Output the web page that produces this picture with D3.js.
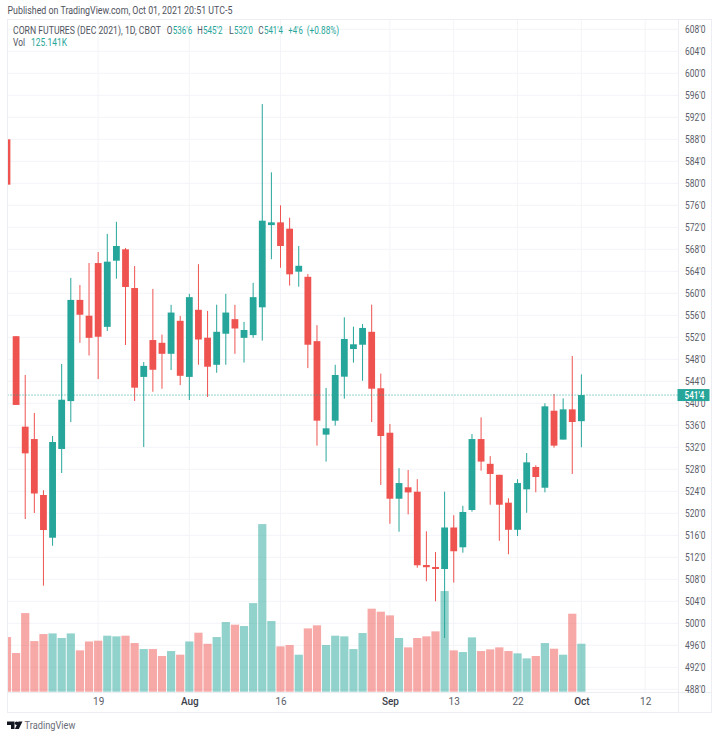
<!DOCTYPE html>
<html><head><meta charset="utf-8">
<style>html,body{margin:0;padding:0;background:#fff;overflow:hidden}svg{display:block}
text{font-family:Roboto,"Open Sans",sans-serif}</style>
<script src="https://cdn.jsdelivr.net/npm/d3@7"></script></head><body>
<script>
const firstIndex=-1;
const opens=[588,552.2,535.75,533.5,523.33,515.56,531.7,540.4,558.8,555.93,565.5,553.9,565.93,568,560.96,544.8,551.5,551,549,555,544.8,557,551.93,547,552.65,555.3,551.9,552.4,557.45,572.4,572.9,571.75,563.93,563,551.3,534.3,536.84,544.84,549.87,550.65,553,542.73,534.65,522.65,524.73,523.93,510.6,510.24,509.87,517.42,513.82,520.6,533.5,529,527,521.93,517,524.36,528.42,524.65,538.65,533.4,538.9,536.75];
const highs=[588,552.2,545.15,538.24,524.2,534.05,547.15,562.8,561.5,565.5,567.5,570.8,573,568.25,564.96,547.5,560.8,552.5,557.9,555.9,559.9,565.3,556.8,557.93,559.9,557.9,554.8,561.9,594.4,582,576,573.75,568.6,563.5,554.2,542.8,547,555.64,553.93,554.4,557.93,545.4,536.24,528.2,527.87,526.2,516.73,512.96,523.93,519.65,521.36,534.4,537.45,530.4,527,522.73,526.2,530.96,528.73,540,541.7,540.9,548.6,545.25];
const lows=[579.75,539.7,518.96,520.05,506.84,514.1,527.33,536.6,551,548.7,544.4,553.15,562.65,550.6,540.42,532.05,542.1,542.65,546.05,543.3,540.6,547,541.15,545.56,547,549,547.4,551.9,551.4,566.2,564.65,561.4,561.2,546.4,532.3,529.4,535.93,540.84,547.4,544.1,536.6,525.15,518.1,516.65,519.8,510.1,507.64,504,497.33,507.4,512.84,520.3,527.75,521.56,515,512.55,515.87,520.1,523.82,523.82,531.93,533.4,527.15,532];
const closes=[579.75,539.7,530.9,523.6,516.96,532.96,540.65,558.8,556.1,551.9,552.1,565.75,568.6,561.15,542.84,546.8,546.1,549,556.5,545,559.3,551.6,546.65,553,556.5,553.6,553.33,559.3,573.2,572.9,568.6,563.45,565,550.65,536.84,535.45,545.15,551.7,550.73,553.7,542.65,534.05,522.65,525.5,523.8,510.55,510.2,509.87,517.42,513.1,520.24,533.5,529.4,527.15,521.56,517,525.5,529.27,526.6,539.45,532.3,538.9,536.6,541.5];
const volumes=[142.5,100.8,205,132,150.3,152,140,152,107.8,131,133,146,144.3,146,126.9,111.2,111.2,93,106,96.5,131,153.8,125,142.5,181.6,174.7,171.2,231,437,184.2,118.2,121.7,96.5,165,173,121.7,146,144.3,111.2,153,216.4,208.6,199,140,115.6,140,144.3,157.3,262.4,107.8,103.4,141.6,106,110.4,115.6,106,100,86.9,93,126.9,112,96.5,203.3,125.14];
const priceTicks=[608,604,600,596,592,588,584,580,576,572,568,564,560,556,552,548,544,540,536,532,528,524,520,516,512,508,504,500,496,492,488];
const timeTickIdx=[9,19,29,41,48,55,62,69];
const timeTickLabels=["19","Aug","16","Sep","13","22","Oct","12"];
const monthLabels=["Aug","Sep","Oct"];
const lastLabel="541'4";
const lastClose=541.5;

const W=720,H=738;
const frame={l:7.5,t:19.5,r:711.5,b:712.5,axisX:678.5,axisY:692.5};
const GREEN="#26a69a",RED="#ef5350",GRID="#f3f4f8",BORDER="#eceef4",TXT="#5a5d68",DARK="#50535e";
const svg=d3.select("body").append("svg").attr("width",W).attr("height",H);
const x=d3.scaleLinear().domain([0,69]).range([16.1,645.2]);
const y=d3.scaleLinear().domain([608,488]).range([29.3,689.3]);
const v=d3.scaleLinear().domain([0,125.141]).range([691.7,643.7]);
const defs=svg.append("defs");
defs.append("clipPath").attr("id","pane").append("rect").attr("x",frame.l+.5).attr("y",frame.t).attr("width",frame.axisX-frame.l-.5).attr("height",frame.axisY-frame.t);
const pfmt=d=>d+"'0";

// grid
const grid=svg.append("g");
grid.selectAll(".h").data(priceTicks).join("line").attr("x1",frame.l).attr("x2",frame.axisX).attr("y1",d=>y(d)).attr("y2",d=>y(d)).attr("stroke",GRID);
grid.selectAll(".v").data(timeTickIdx).join("line").attr("x1",d=>x(d)).attr("x2",d=>x(d)).attr("y1",frame.t).attr("y2",frame.axisY).attr("stroke",GRID);

const pane=svg.append("g").attr("clip-path","url(#pane)");
const idx=closes.map((_,i)=>i+firstIndex);
const col=i=>closes[i]>=opens[i]?GREEN:RED;
pane.selectAll(".vol").data(idx).join("rect").attr("class","vol")
 .attr("x",(d)=>x(d)-4.1).attr("width",8.2)
 .attr("y",(d,i)=>v(volumes[i])).attr("height",(d,i)=>v(0)-v(volumes[i]))
 .attr("fill",(d,i)=>col(i)).attr("fill-opacity",.5);
pane.selectAll(".wick").data(idx).join("line").attr("class","wick")
 .attr("x1",d=>x(d)).attr("x2",d=>x(d))
 .attr("y1",(d,i)=>y(highs[i])).attr("y2",(d,i)=>y(lows[i]))
 .attr("stroke",(d,i)=>col(i)).attr("stroke-width",1);
pane.selectAll(".body").data(idx).join("rect").attr("class","body")
 .attr("x",d=>x(d)-3.4).attr("width",6.8)
 .attr("y",(d,i)=>y(Math.max(opens[i],closes[i])))
 .attr("height",(d,i)=>Math.max(1.5,Math.abs(y(opens[i])-y(closes[i]))))
 .attr("fill",(d,i)=>col(i));
// last price line
svg.append("line").attr("x1",frame.l).attr("x2",frame.axisX).attr("y1",y(lastClose)).attr("y2",y(lastClose))
 .attr("stroke",GREEN).attr("stroke-dasharray","1 2").attr("stroke-width",1);

// frame
svg.append("rect").attr("x",frame.l).attr("y",frame.t).attr("width",frame.r-frame.l).attr("height",frame.b-frame.t).attr("fill","none").attr("stroke",BORDER);
svg.append("line").attr("x1",frame.axisX).attr("x2",frame.axisX).attr("y1",frame.t).attr("y2",frame.b).attr("stroke",BORDER);
svg.append("line").attr("x1",frame.l).attr("x2",frame.r).attr("y1",frame.axisY).attr("y2",frame.axisY).attr("stroke",BORDER);

// horizontally condensed text: scale measured natural width to the wanted width
const squeeze=(sel,len,px,py)=>sel.each(function(){
  const n=this.getComputedTextLength();
  d3.select(this).attr("x",0).attr("y",py===undefined?this.getAttribute("y"):0)
    .attr("transform",`translate(${px},${py===undefined?0:py}) scale(${len/n},1)`);
});

// axes
const ay=svg.append("g").attr("transform",`translate(${frame.axisX},0)`).call(d3.axisRight(y).tickValues(priceTicks).tickFormat(pfmt).tickSize(0).tickPadding(6.5));
ay.select(".domain").remove();
ay.selectAll("text").attr("font-size",10).attr("fill",TXT).style("font-family","Roboto,sans-serif");
ay.selectAll("text").each(function(){squeeze(d3.select(this),20.5,6.5);d3.select(this).attr("y",0).attr("dy","0.32em");});
const ax=svg.append("g").attr("transform",`translate(0,${frame.axisY})`).call(d3.axisBottom(x).tickValues(timeTickIdx).tickFormat((d,i)=>timeTickLabels[i]).tickSize(0).tickPadding(5));
ax.select(".domain").remove();
ax.selectAll("text").attr("font-size",10).attr("fill",(d,i)=>monthLabels.includes(timeTickLabels[i])?"#3c3f4a":TXT)
 .attr("font-weight",(d,i)=>monthLabels.includes(timeTickLabels[i])?500:400).style("font-family","Roboto,sans-serif");

// last price tag
svg.append("rect").attr("x",677.5).attr("y",y(lastClose)-6).attr("width",32).attr("height",12).attr("fill",GREEN);

// header + legend
const put=(t,px,py,len,fill,fs=10,fw=400)=>{const s=svg.append("text").attr("font-size",fs).attr("font-weight",fw).attr("fill",fill).text(t);squeeze(s,len,px,py);return s;};
put(lastLabel,684.5,y(lastClose)+3.5,20,"#fff",10,500);
put("Published on TradingView.com, Oct 01, 2021 20:51 UTC-5",7.5,14,225,DARK);
put("CORN FUTURES (DEC 2021), 1D, CBOT",13,33.5,148,DARK);
put("O",166.7,33.5,5.7,DARK); put("536'6",172.7,33.5,19.5,GREEN);
put("H",197.3,33.5,5.5,DARK); put("545'2",203,33.5,19.5,GREEN);
put("L",229,33.5,4.7,DARK);   put("532'0",234,33.5,19,GREEN);
put("C",258.3,33.5,5.4,DARK); put("541'4",264,33.5,19,GREEN);
put("+4'6",288.3,33.5,14.5,GREEN); put("(+0.88%)",306.7,33.5,32.5,GREEN);
put("Vol",13,46,12,DARK); put("125.141K",31,46,36,GREEN);

// logo
const logo=svg.append("g").attr("fill","#131722");
logo.append("path").attr("d","M7 721.5H14.5V729H11V725H7Z");
logo.append("circle").attr("cx",16.6).attr("cy",723.3).attr("r",1.8);
logo.append("path").attr("d","M18.5 721.5H22.5L18.8 729H14.9Z");
put("TradingView",24.5,729,51,"#6a6d78",11);
</script></body></html>
